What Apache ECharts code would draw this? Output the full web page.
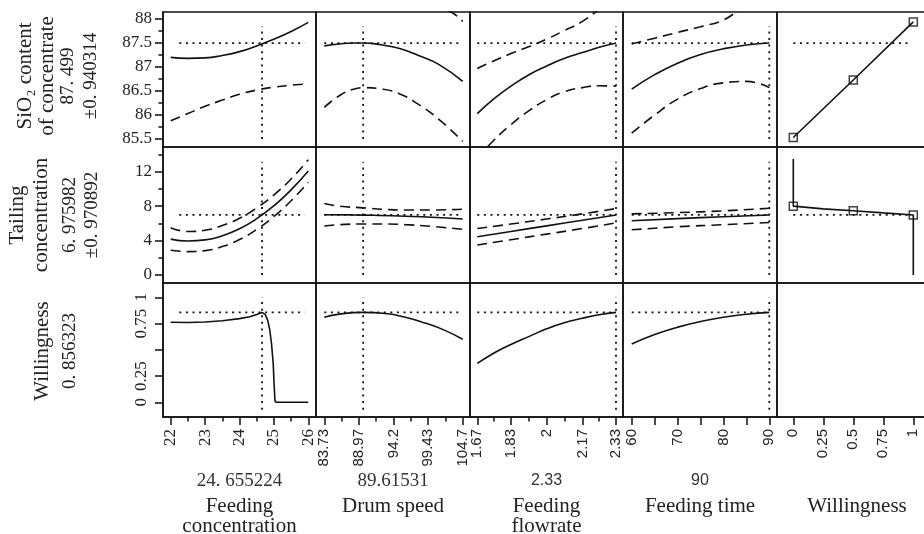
<!DOCTYPE html>
<html>
<head>
<meta charset="utf-8">
<script src="https://cdn.jsdelivr.net/npm/echarts@6/dist/echarts.min.js"></script>
<style>
html,body{margin:0;padding:0;background:#fff;}
#c{width:924px;height:534px;}
</style>
</head>
<body>
<div id="c"></div>
<script>
// ================= DATA =================
// factor (column) names and current settings
const factorNames = ['Feeding\nconcentration', 'Drum speed', 'Feeding\nflowrate', 'Feeding time', 'Willingness'];
const factorValueText = ['24. 655224', '89.61531', '2.33', '90', ''];
const factorCurrent = [24.655224, 89.61531, 2.33, 90, null];

// response (row) labels and current predictions
const responseLabelLines = [
  ['SiO\u2082 content', 'of concentrate', '87. 499', '\u00b10. 940314'],
  ['Tailing', 'concentration', '6. 975982', '\u00b10. 970892'],
  ['Willingness', '0. 856323']
];
const responseCurrent = [87.499, 6.975982, 0.856323];

// x axis ticks / labels
const xTickValues = [[22,23,24,25,26], [83.73,88.97,94.2,99.43,104.7], [1.67,1.83,2,2.17,2.33], [60,65,70,75,80,85,90], [0,0.25,0.5,0.75,1]];
const xTickLabels = [[22,23,24,25,26], [83.73,88.97,94.2,99.43,104.7], [1.67,1.83,2,2.17,2.33], [60,70,80,90], [0,0.25,0.5,0.75,1]];
const xMinorTicks = [[22.5,23.5,24.5,25.5], [86.35,91.585,96.815,102.065], [1.75,1.915,2.085,2.25], [], []];
const xRanges = [[21.776,26.224], [82.472,105.806], [1.6353,2.3633], [58.10,91.68], [-0.1358,1.1475]];

// y axis ticks / labels
const yTickValues = [[85.5,86,86.5,87,87.5,88], [0,4,8,12], [0,0.25,0.5,0.75,1]];
const yTickLabels = [[85.5,86,86.5,87,87.5,88], [0,4,8,12], [0,0.25,0.75,1]];
const yMinorTicks = [[85.75,86.25,86.75,87.25,87.75], [2,6,10,14], []];
const yRanges = [[85.333,88.146], [-0.93,14.87], [-0.14,1.136]];

// extents of the dotted reference lines
const hRefSpan = [[22.25,25.9], [83.73,104.6], [1.67,2.33], [60,90], [0,0.97]];
const vRefSpan = [[85.5,87.85], [0,13.16], [-0.07,1.0]];

// ---- Row 1: SiO2 content of concentrate ----
const sio2_conc_pred = [[22,87.20],[22.5,87.18],[23,87.19],[23.5,87.24],[24,87.32],[24.5,87.44],[25,87.58],[25.5,87.74],[26,87.93]];
const sio2_conc_up   = [[22,88.52],[22.5,88.33],[23,88.26],[23.5,88.24],[24,88.27],[24.5,88.36],[25,88.58],[25.5,88.86],[26,89.21]];
const sio2_conc_low  = [[22,85.88],[22.5,86.03],[23,86.18],[23.5,86.31],[24,86.43],[24.5,86.52],[25,86.58],[25.5,86.62],[26,86.65]];

const sio2_drum_pred = [[83.73,87.44],[86,87.48],[88,87.50],[89.6,87.50],[92,87.47],[95,87.39],[98,87.24],[101,87.06],[104.7,86.70]];
const sio2_drum_up   = [[83.73,88.72],[88,88.47],[92,88.39],[95,88.33],[98,88.26],[101,88.22],[103,88.14],[104.7,87.95]];
const sio2_drum_low  = [[83.73,86.16],[86,86.40],[88,86.53],[90,86.57],[92,86.55],[95,86.45],[98,86.22],[101,85.92],[104.7,85.45]];

const sio2_flow_pred = [[1.67,86.03],[1.75,86.34],[1.83,86.60],[1.92,86.85],[2.0,87.02],[2.08,87.17],[2.17,87.30],[2.25,87.41],[2.33,87.499]];
const sio2_flow_up   = [[1.67,86.97],[1.75,87.13],[1.83,87.28],[1.92,87.43],[2.0,87.58],[2.08,87.75],[2.17,87.95],[2.25,88.20],[2.33,88.45]];
const sio2_flow_low  = [[1.67,85.10],[1.75,85.48],[1.83,85.80],[1.92,86.10],[2.0,86.32],[2.08,86.48],[2.17,86.57],[2.25,86.61],[2.33,86.60]];

const sio2_time_pred = [[60,86.54],[65,86.84],[70,87.08],[75,87.26],[80,87.38],[85,87.46],[90,87.499]];
const sio2_time_up   = [[60,87.48],[65,87.60],[70,87.72],[75,87.84],[80,87.98],[85,88.28],[90,88.43]];
const sio2_time_low  = [[60,85.62],[65,86.00],[70,86.33],[75,86.55],[80,86.67],[85,86.70],[90,86.57]];

const sio2_will_pred  = [[0,85.53],[0.5,86.73],[1,87.94]];
const sio2_will_marks = [[0,85.53],[0.5,86.73],[1,87.94]];

// ---- Row 2: Tailing concentration ----
const tail_conc_pred = [[22,4.17],[22.5,3.95],[23,4.08],[23.5,4.56],[24,5.37],[24.5,6.54],[25,8.04],[25.5,9.89],[26,12.08]];
const tail_conc_up   = [[22,5.5],[22.5,5.05],[23,5.2],[23.5,5.75],[24,6.6],[24.5,7.8],[25,9.3],[25.5,11.15],[26,13.4]];
const tail_conc_low  = [[22,2.87],[22.5,2.72],[23,2.83],[23.5,3.31],[24,4.12],[24.5,5.3],[25,6.8],[25.5,8.62],[26,10.78]];

const tail_drum_pred = [[83.73,7.0],[88,6.98],[92,6.92],[96,6.83],[100,6.71],[104.7,6.5]];
const tail_drum_up   = [[83.73,8.3],[86,8.0],[89.6,7.8],[93,7.62],[96,7.55],[100,7.55],[104.7,7.65]];
const tail_drum_low  = [[83.73,5.7],[86,5.85],[89.6,5.93],[93,5.93],[96,5.85],[100,5.65],[104.7,5.3]];

const tail_flow_pred = [[1.67,4.45],[1.83,5.06],[2.0,5.71],[2.17,6.36],[2.33,6.976]];
const tail_flow_up   = [[1.67,5.4],[1.83,5.92],[2.0,6.5],[2.17,7.1],[2.33,7.72]];
const tail_flow_low  = [[1.67,3.48],[1.83,4.1],[2.0,4.75],[2.17,5.4],[2.33,6.05]];

const tail_time_pred = [[60,6.3],[70,6.55],[80,6.77],[90,6.976]];
const tail_time_up   = [[60,7.1],[70,7.25],[80,7.45],[90,7.75]];
const tail_time_low  = [[60,5.25],[70,5.6],[80,5.85],[90,6.1]];

const tail_will_pred  = [[0,13.47],[0,8.0],[0.25,7.68],[0.5,7.47],[0.75,7.22],[1,6.976],[1,0]];
const tail_will_marks = [[0,8.0],[0.5,7.47],[1,6.976]];

// ---- Row 3: Willingness (desirability) ----
const will_conc_pred = [[22,0.762],[22.5,0.760],[23,0.765],[23.5,0.777],[24,0.797],[24.3,0.815],[24.5,0.835],[24.655,0.856],[24.75,0.835],[24.82,0.78],[24.88,0.69],[24.93,0.56],[24.98,0.37],[25.0,0.21],[25.03,0.02],[25.05,0],[26,0]];
const will_drum_pred = [[83.73,0.81],[86,0.84],[89.6,0.856],[93,0.845],[96,0.81],[99,0.755],[102,0.685],[104.7,0.60]];
const will_flow_pred = [[1.67,0.37],[1.75,0.47],[1.83,0.55],[1.92,0.63],[2.0,0.70],[2.08,0.755],[2.17,0.80],[2.25,0.833],[2.33,0.856]];
const will_time_pred = [[60,0.555],[65,0.645],[70,0.715],[75,0.77],[80,0.81],[85,0.838],[90,0.856]];

// ================= LAYOUT / BUILD =================
const panels = [
  [ {pred: sio2_conc_pred, up: sio2_conc_up, low: sio2_conc_low},
    {pred: sio2_drum_pred, up: sio2_drum_up, low: sio2_drum_low},
    {pred: sio2_flow_pred, up: sio2_flow_up, low: sio2_flow_low},
    {pred: sio2_time_pred, up: sio2_time_up, low: sio2_time_low},
    {pred: sio2_will_pred, marks: sio2_will_marks, noSmooth: true} ],
  [ {pred: tail_conc_pred, up: tail_conc_up, low: tail_conc_low},
    {pred: tail_drum_pred, up: tail_drum_up, low: tail_drum_low},
    {pred: tail_flow_pred, up: tail_flow_up, low: tail_flow_low},
    {pred: tail_time_pred, up: tail_time_up, low: tail_time_low},
    {pred: tail_will_pred, marks: tail_will_marks, noSmooth: true} ],
  [ {pred: will_conc_pred, noSmooth: true},
    {pred: will_drum_pred},
    {pred: will_flow_pred},
    {pred: will_time_pred},
    null ]
];

const colEdges = [163, 316, 470, 623, 777, 931];
const rowEdges = [12, 147, 283, 417];
const SERIF = 'Liberation Serif';
const SANS = 'Liberation Sans';
const INK = '#111';

const grids = [], xAxes = [], yAxes = [], series = [];
for (let r = 0; r < 3; r++) {
  for (let c = 0; c < 5; c++) {
    const idx = r * 5 + c;
    grids.push({
      left: colEdges[c], top: rowEdges[r],
      width: colEdges[c + 1] - colEdges[c], height: rowEdges[r + 1] - rowEdges[r],
      show: true, borderColor: INK, borderWidth: 1.5, backgroundColor: 'transparent',
      containLabel: false, outerBoundsMode: 'none'
    });
    const showX = r === 2;
    xAxes.push({
      type: 'value', gridIndex: idx, min: xRanges[c][0], max: xRanges[c][1],
      show: showX, position: 'bottom',
      axisLine: {show: true, onZero: false, lineStyle: {color: INK, width: 1.5}},
      axisTick: {show: true, customValues: xTickValues[c], length: 8, lineStyle: {color: INK, width: 1.5}},
      axisLabel: {show: true, customValues: xTickLabels[c], rotate: 90, margin: 12,
        fontFamily: c === 0 ? SERIF : SANS, fontSize: c === 0 ? 17 : 15, color: '#222',
        formatter: v => String(v)},
      splitLine: {show: false}, minorTick: {show: false}
    });
    const showY = c === 0;
    yAxes.push({
      type: 'value', gridIndex: idx, min: yRanges[r][0], max: yRanges[r][1],
      show: showY, position: 'left',
      axisLine: {show: true, onZero: false, lineStyle: {color: INK, width: 1.5}},
      axisTick: {show: true, customValues: yTickValues[r], length: 8, lineStyle: {color: INK, width: 1.5}},
      axisLabel: {show: true, customValues: yTickLabels[r], rotate: r === 2 ? 90 : 0,
        margin: r === 2 ? 13 : 11,
        fontFamily: SERIF, fontSize: 17, color: '#222', formatter: v => String(v)},
      splitLine: {show: false}, minorTick: {show: false}
    });
  }
}
// minor tick axes
for (let c = 0; c < 5; c++) {
  if (!xMinorTicks[c].length) continue;
  xAxes.push({
    type: 'value', gridIndex: 10 + c, min: xRanges[c][0], max: xRanges[c][1], position: 'bottom',
    axisLine: {show: false, onZero: false}, axisLabel: {show: false}, splitLine: {show: false},
    axisTick: {show: true, customValues: xMinorTicks[c], length: 4.5, lineStyle: {color: INK, width: 1.5}}
  });
}
for (let r = 0; r < 3; r++) {
  if (!yMinorTicks[r].length) continue;
  yAxes.push({
    type: 'value', gridIndex: r * 5, min: yRanges[r][0], max: yRanges[r][1], position: 'left',
    axisLine: {show: false, onZero: false}, axisLabel: {show: false}, splitLine: {show: false},
    axisTick: {show: true, customValues: yMinorTicks[r], length: 4.5, lineStyle: {color: INK, width: 1.5}}
  });
}

function addLine(idx, data, type, width, smooth) {
  series.push({
    type: 'line', xAxisIndex: idx, yAxisIndex: idx, data: data,
    showSymbol: false, symbol: 'none', smooth: smooth,
    clip: true, silent: true, animation: false,
    lineStyle: {color: INK, width: width, type: type, cap: 'butt'}
  });
}

for (let r = 0; r < 3; r++) {
  for (let c = 0; c < 5; c++) {
    const p = panels[r][c];
    if (!p) continue;
    const idx = r * 5 + c;
    const sm = p.noSmooth ? false : true;
    // dotted reference lines
    addLine(idx, [[hRefSpan[c][0], responseCurrent[r]], [hRefSpan[c][1], responseCurrent[r]]], [2, 4.6], 1.8, false);
    if (factorCurrent[c] !== null) {
      addLine(idx, [[factorCurrent[c], vRefSpan[r][0]], [factorCurrent[c], vRefSpan[r][1]]], [2, 4.6], 1.8, false);
    }
    if (p.up) addLine(idx, p.up, [10, 6], 1.6, sm);
    if (p.low) addLine(idx, p.low, [10, 6], 1.6, sm);
    addLine(idx, p.pred, 'solid', 1.6, sm);
    if (p.marks) {
      series.push({
        type: 'scatter', xAxisIndex: idx, yAxisIndex: idx, data: p.marks,
        symbol: 'rect', symbolSize: 8, silent: true, animation: false,
        itemStyle: {color: '#fff', borderColor: INK, borderWidth: 1.5}
      });
    }
  }
}

// text: row labels (rotated) and column titles
const graphic = [];
const rowLineX = [[25, 47, 68, 91], [17, 41, 70, 92], [42, 70]];
const rowCenterY = [76, 215, 351];
responseLabelLines.forEach((lines, r) => {
  lines.forEach((t, i) => {
    const isVal = /^[\d\u00b1]/.test(t);
    graphic.push({
      type: 'text', x: rowLineX[r][i], y: rowCenterY[r], rotation: Math.PI / 2, silent: true,
      style: {text: t, fill: '#222', fontFamily: SERIF, fontSize: isVal ? 19 : 21,
        align: 'center', verticalAlign: 'middle'}
    });
  });
});
const colCenterX = [239.5, 393, 546.5, 700, 857];
factorNames.forEach((name, c) => {
  if (factorValueText[c]) {
    graphic.push({
      type: 'text', x: colCenterX[c], y: 481, silent: true,
      style: {text: factorValueText[c], fill: '#333',
        fontFamily: (c === 2 || c === 3) ? SANS : SERIF, fontSize: (c === 2 || c === 3) ? 16 : 19,
        align: 'center', verticalAlign: 'middle'}
    });
  }
  graphic.push({
    type: 'text', x: colCenterX[c], y: 496, silent: true,
    style: {text: name, fill: '#222', fontFamily: SERIF, fontSize: 21, lineHeight: 20,
      align: 'center', verticalAlign: 'top'}
  });
});

const chart = echarts.init(document.getElementById('c'), null, {renderer: 'canvas'});
chart.setOption({
  animation: false,
  backgroundColor: '#fff',
  grid: grids,
  xAxis: xAxes,
  yAxis: yAxes,
  series: series,
  graphic: graphic
});
</script>
</body>
</html>
